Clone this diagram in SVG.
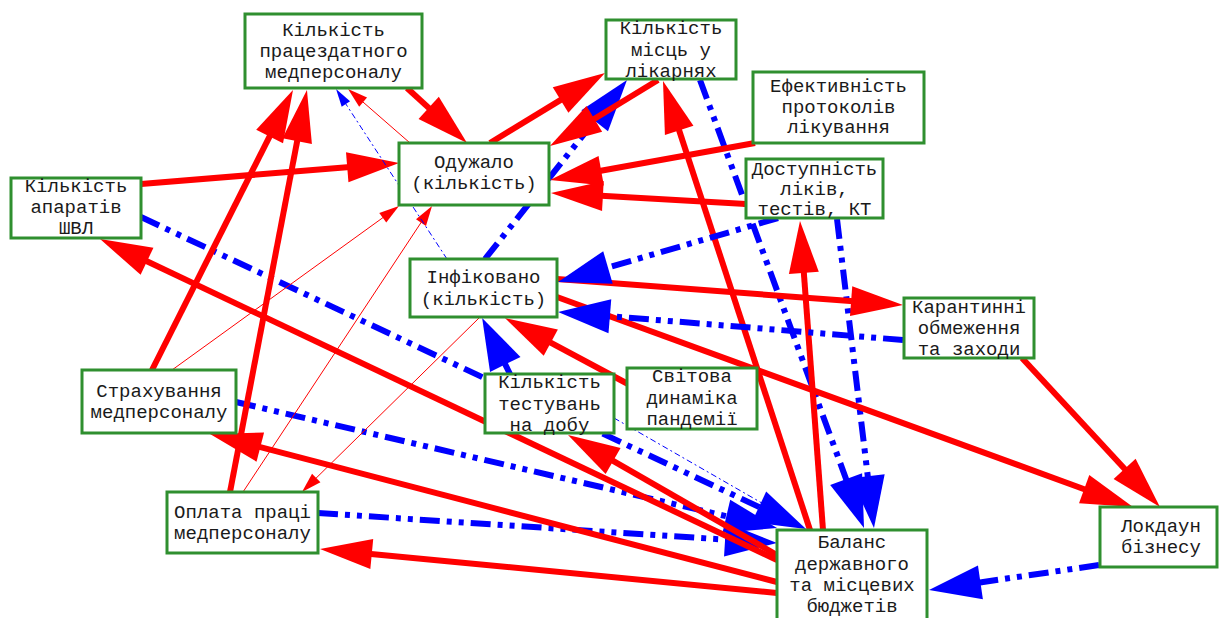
<svg xmlns="http://www.w3.org/2000/svg" width="1220" height="618" viewBox="0 0 1220 618">
<defs>
<style>
.n rect{fill:#fff;stroke:#2f8f2f;stroke-width:3}
.n text{font-family:"Liberation Mono","Courier New",monospace;font-size:19px;fill:#1a1a1a;text-anchor:middle}
.rt{stroke:#f00;stroke-width:6;fill:none;marker-end:url(#ar)}
.bt{stroke:#00f;stroke-width:6;fill:none;stroke-dasharray:20 7 5 7 5 7;marker-end:url(#ab)}
.rn{stroke:#f00;stroke-width:1;fill:none;marker-end:url(#arn)}
.bn{stroke:#00f;stroke-width:1;fill:none;stroke-dasharray:6 3 2 3;marker-end:url(#abn)}
</style>
<marker id="ar" markerUnits="userSpaceOnUse" orient="auto" overflow="visible" markerWidth="60" markerHeight="40" refX="0" refY="0"><path d="M-6,-15 L46,0 L-6,15 z" fill="#f00"/></marker>
<marker id="ab" markerUnits="userSpaceOnUse" orient="auto" overflow="visible" markerWidth="60" markerHeight="40" refX="0" refY="0"><path d="M-6,-17 L46,0 L-6,17 z" fill="#00f"/></marker>
<marker id="arn" markerUnits="userSpaceOnUse" orient="auto" overflow="visible" markerWidth="30" markerHeight="20" refX="0" refY="0"><path d="M-4,-6 L16,0 L-4,6 z" fill="#f00"/></marker>
<marker id="abn" markerUnits="userSpaceOnUse" orient="auto" overflow="visible" markerWidth="30" markerHeight="20" refX="0" refY="0"><path d="M-4,-5 L14,0 L-4,5 z" fill="#00f"/></marker>
</defs>
<rect width="1220" height="618" fill="#fff"/>
<g id="connectors">
<line class="bt" x1="485" y1="259" x2="598.4" y2="116"/>
<line class="bt" x1="700" y1="80" x2="848.2" y2="484.8"/>
<line class="bt" x1="837" y1="219" x2="868.5" y2="482.3"/>
<line class="bt" x1="141" y1="217" x2="764.4" y2="509.5"/>
<line class="bt" x1="236" y1="402" x2="732.2" y2="517.6"/>
<line class="bt" x1="318" y1="513" x2="731.1" y2="540"/>
<line class="rt" x1="141" y1="184" x2="353.2" y2="166.7"/>
<line class="rt" x1="490" y1="143" x2="565.7" y2="96.9"/>
<line class="rt" x1="658" y1="80" x2="589.2" y2="122"/>
<line class="rt" x1="407" y1="88" x2="433.1" y2="111.9"/>
<line class="rt" x1="755" y1="143" x2="595.3" y2="171.8"/>
<line class="rt" x1="746" y1="204" x2="596.9" y2="195.6"/>
<line class="rt" x1="152" y1="370" x2="272.3" y2="131.1"/>
<line class="rt" x1="230" y1="492" x2="298.3" y2="135.2"/>
<line class="rt" x1="777" y1="560" x2="141.6" y2="258.7"/>
<line class="rt" x1="777" y1="582" x2="254.5" y2="445.6"/>
<line class="rt" x1="777" y1="593" x2="365.8" y2="553.4"/>
<line class="rt" x1="777" y1="555" x2="607.9" y2="457.9"/>
<line class="rt" x1="810" y1="530" x2="677.3" y2="124.7"/>
<line class="rt" x1="823" y1="530" x2="803.4" y2="266.9"/>
<line class="rt" x1="557" y1="279" x2="857.1" y2="301.6"/>
<line class="rt" x1="557" y1="297" x2="1089.8" y2="491.2"/>
<line class="rt" x1="1022" y1="358" x2="1128.7" y2="473.3"/>
<line class="rt" x1="628" y1="384" x2="545.5" y2="339.8"/>
<line class="bt" x1="778" y1="218" x2="602.2" y2="269.2"/>
<line class="bt" x1="903" y1="340" x2="603.9" y2="315.7"/>
<line class="bt" x1="510" y1="374" x2="502.6" y2="359.1"/>
<line class="bt" x1="1099" y1="565" x2="974.5" y2="583.3"/>
<line class="rn" x1="410" y1="143" x2="360.1" y2="99.5"/>
<line class="rn" x1="172" y1="370" x2="386" y2="215.4"/>
<line class="rn" x1="243" y1="492" x2="423.2" y2="219.3"/>
<line class="rn" x1="480" y1="317" x2="313.4" y2="480.8"/>
<line class="bn" x1="447" y1="259" x2="343.7" y2="100.7"/>
<line class="bn" x1="614" y1="418" x2="787.9" y2="518"/>
</g>
<g id="n1" class="n"><rect x="245" y="14" width="177" height="74"/><text x="333.5" y="36">Кількість</text><text x="333.5" y="57">працездатного</text><text x="333.5" y="78">медперсоналу</text></g>
<g id="n2" class="n"><rect x="606" y="20" width="130" height="59"/><text x="671" y="34">Кількість</text><text x="671" y="56">місць у</text><text x="671" y="77">лікарнях</text></g>
<g id="n3" class="n"><rect x="753" y="72" width="171" height="71"/><text x="838.5" y="92">Ефективність</text><text x="838.5" y="113">протоколів</text><text x="838.5" y="133">лікування</text></g>
<g id="n4" class="n"><rect x="746" y="159" width="137" height="59"/><text x="814.5" y="175">Доступність</text><text x="814.5" y="195">ліків,</text><text x="814.5" y="215">тестів, КТ</text></g>
<g id="n5" class="n"><rect x="399" y="143" width="150" height="62"/><text x="474" y="168">Одужало</text><text x="474" y="189">(кількість)</text></g>
<g id="n6" class="n"><rect x="11" y="178" width="130" height="60"/><text x="76" y="192">Кількість</text><text x="76" y="213">апаратів</text><text x="76" y="234">ШВЛ</text></g>
<g id="n7" class="n"><rect x="410" y="259" width="147" height="58"/><text x="483.5" y="283">Інфіковано</text><text x="483.5" y="305">(кількість)</text></g>
<g id="n8" class="n"><rect x="485" y="374" width="129" height="59"/><text x="549.5" y="388">Кількість</text><text x="549.5" y="410">тестувань</text><text x="549.5" y="431">на добу</text></g>
<g id="n9" class="n"><rect x="627" y="368" width="130" height="61"/><text x="692" y="382">Світова</text><text x="692" y="404">динаміка</text><text x="692" y="425">пандемії</text></g>
<g id="n10" class="n"><rect x="904" y="298" width="130" height="60"/><text x="969" y="313">Карантинні</text><text x="969" y="334">обмеження</text><text x="969" y="355">та заходи</text></g>
<g id="n11" class="n"><rect x="1100" y="507" width="117" height="60"/><text x="1161" y="532">Локдаун</text><text x="1161" y="553">бізнесу</text></g>
<g id="n12" class="n"><rect x="777" y="530" width="150" height="100"/><text x="852" y="548">Баланс</text><text x="852" y="570">державного</text><text x="852" y="591">та місцевих</text><text x="852" y="612">бюджетів</text></g>
<g id="n13" class="n"><rect x="82" y="370" width="154" height="63"/><text x="159" y="397">Страхування</text><text x="159" y="418">медперсоналу</text></g>
<g id="n14" class="n"><rect x="167" y="492" width="151" height="61"/><text x="242.5" y="518">Оплата праці</text><text x="242.5" y="539">медперсоналу</text></g>
</svg>
